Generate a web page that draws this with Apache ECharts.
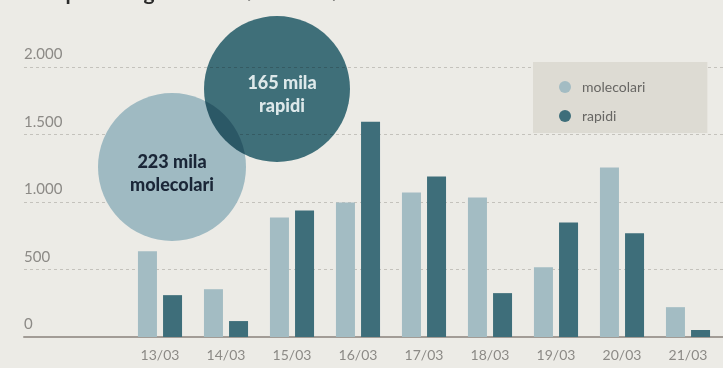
<!DOCTYPE html>
<html>
<head>
<meta charset="utf-8">
<title>Tamponi</title>
<script src="https://cdn.jsdelivr.net/npm/echarts@6/dist/echarts.min.js"></script>
<style>
	html, body { margin: 0; padding: 0; background: #ecebe6; }
	#chart { width: 723px; height: 368px; }
</style>
</head>
<body>
<div id="chart"></div>
<script type="text/javascript">
	// dati
	var giorni = ['13/03', '14/03', '15/03', '16/03', '17/03', '18/03', '19/03', '20/03', '21/03'];
	var molecolari = [635, 354, 886, 996, 1070, 1033, 517, 1255, 221];
	var rapidi = [310, 118, 937, 1594, 1188, 325, 849, 768, 52];
	var totaleMolecolari = '223 mila';
	var totaleRapidi = '165 mila';
	var titolo = 'Tamponi eseguiti dal 13/03 al 21/03';

	var font = 'Lato, "Open Sans", sans-serif';
	var grigio = '#8c8a86';

	var myChart = echarts.init(document.getElementById('chart'));
	var option = {
		backgroundColor: '#ecebe6',
		animation: false,
		textStyle: { fontFamily: font },
		grid: [
			{ left: 24, right: 0, top: 67, bottom: 31 },
			{ left: 127, right: 2, top: 67, bottom: 31 }
		],
		legend: {
			data: ['molecolari', 'rapidi'],
			orient: 'vertical',
			left: 533,
			top: 62,
			padding: [18, 62, 10, 26],
			itemGap: 15,
			itemWidth: 12,
			itemHeight: 12,
			icon: 'circle',
			backgroundColor: '#dddbd3',
			textStyle: { color: '#676663', fontSize: 14, padding: [0, 0, 0, 6] }
		},
		xAxis: [
			{
				gridIndex: 0, type: 'value', min: 0, max: 1,
				axisLine: { show: true, lineStyle: { color: '#a29c96', width: 2 } },
				axisTick: { show: false }, axisLabel: { show: false }, splitLine: { show: false }
			},
			{
				gridIndex: 1, type: 'category', data: giorni,
				axisLine: { show: false }, axisTick: { show: false },
				axisLabel: { color: grigio, fontSize: 14, margin: 11 }
			}
		],
		yAxis: [
			{
				gridIndex: 0, type: 'value', min: 0, max: 2000, interval: 500,
				axisLine: { show: false }, axisTick: { show: false },
				axisLabel: {
					inside: true, margin: 0, color: grigio, fontSize: 15,
					verticalAlign: 'bottom', padding: [0, 0, 5, 0],
					formatter: function (v) {
						return v >= 1000 ? Math.floor(v / 1000) + '.' + ('00' + v % 1000).slice(-3) : String(v);
					}
				},
				splitLine: { lineStyle: { color: '#c4c2bc', type: [3, 3], width: 1 } }
			},
			{
				gridIndex: 1, type: 'value', min: 0, max: 2000, interval: 500,
				axisLine: { show: false }, axisTick: { show: false },
				axisLabel: { show: false }, splitLine: { show: false }
			}
		],
		series: [
			{
				name: 'molecolari', type: 'bar', xAxisIndex: 1, yAxisIndex: 1,
				data: molecolari, barWidth: 19, barGap: '32%',
				itemStyle: { color: '#a3bcc3' }
			},
			{
				name: 'rapidi', type: 'bar', xAxisIndex: 1, yAxisIndex: 1,
				data: rapidi, barWidth: 19,
				itemStyle: { color: '#3e6e7a' }
			}
		],
		graphic: [
			{
				type: 'text', left: 27, top: -17, z: 10,
				style: { text: titolo, fill: '#2b2b2b', font: 'bold 21px ' + font }
			},
			{
				type: 'circle', shape: { cx: 172, cy: 167, r: 74 }, z: 20,
				style: { fill: '#9fbac2' }
			},
			{
				type: 'circle', shape: { cx: 277, cy: 89, r: 73 }, z: 21,
				style: { fill: '#447886', blend: 'multiply' }
			},
			{
				type: 'text', x: 172, y: 174, z: 22,
				style: {
					text: totaleMolecolari + '\nmolecolari', fill: '#1a2637',
					font: '900 18px ' + font, lineHeight: 23,
					align: 'center', verticalAlign: 'middle'
				}
			},
			{
				type: 'text', x: 282, y: 95, z: 22,
				style: {
					text: totaleRapidi + '\nrapidi', fill: '#dde8ea',
					font: '900 18px ' + font, lineHeight: 23,
					align: 'center', verticalAlign: 'middle'
				}
			}
		]
	};
	myChart.setOption(option);
</script>
</body>
</html>
